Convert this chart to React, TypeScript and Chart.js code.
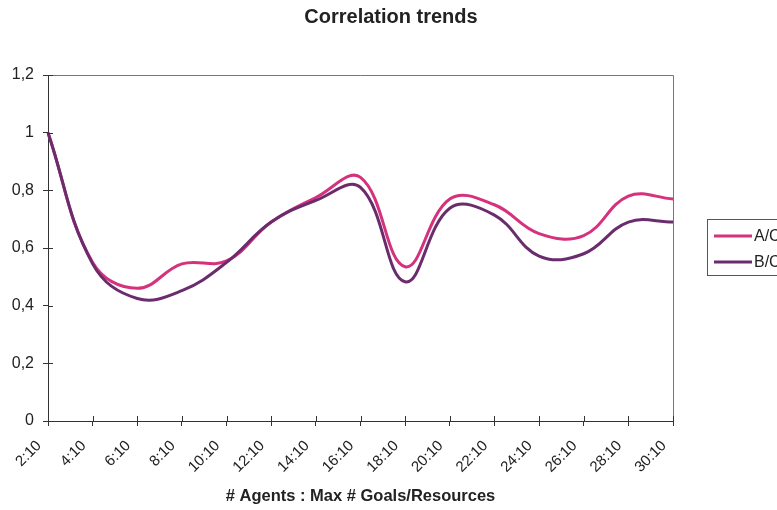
import { useEffect, useRef } from 'react';
import { Chart, registerables } from 'chart.js';

Chart.register(...registerables);

const categories = ['2:10', '4:10', '6:10', '8:10', '10:10', '12:10', '14:10', '16:10', '18:10', '20:10', '22:10', '24:10', '26:10', '28:10', '30:10'];
const seriesAC = [1.0, 0.55, 0.46, 0.545, 0.555, 0.69, 0.775, 0.845, 0.535, 0.77, 0.75, 0.65, 0.643, 0.78, 0.77];
const seriesBC = [1.0, 0.545, 0.425, 0.452, 0.55, 0.69, 0.765, 0.81, 0.483, 0.738, 0.714, 0.572, 0.58, 0.69, 0.69];
const seriesNames = ['A/C', 'B/C'];
const seriesColors = ['#d6317c', '#6b2c6e'];
const yMin = 0;
const yMax = 1.2;
const yStep = 0.2;
const titleText = 'Correlation trends';
const xTitleText = '# Agents : Max # Goals/Resources';

const FONT = "'Liberation Sans', Arial, sans-serif";

export default function App() {
  const ref = useRef<HTMLCanvasElement>(null);

  useEffect(() => {
    const canvas = ref.current;
    if (!canvas) return;

    const decor = {
      id: 'decor',
      afterDraw(chart: any) {
        const ctx = chart.ctx;
        const { left, right, top, bottom } = chart.chartArea;
        ctx.save();
        // title centred on the whole canvas
        ctx.font = `bold 20px ${FONT}`;
        ctx.fillStyle = '#222';
        ctx.textAlign = 'center';
        ctx.textBaseline = 'middle';
        ctx.fillText(titleText, 391, 17);
        // frame top and right
        ctx.strokeStyle = '#777';
        ctx.lineWidth = 1;
        ctx.beginPath();
        ctx.moveTo(left, top + 0.5);
        ctx.lineTo(right + 0.5, top + 0.5);
        ctx.lineTo(right + 0.5, bottom);
        ctx.stroke();
        // inner tick marks
        ctx.strokeStyle = '#333';
        const xs = chart.scales.x;
        const ys = chart.scales.y;
        ctx.beginPath();
        for (let i = 0; i < xs.ticks.length; i++) {
          const px = Math.round(xs.getPixelForTick(i)) + 0.5;
          ctx.moveTo(px, bottom - 5);
          ctx.lineTo(px, bottom);
        }
        for (let i = 0; i < ys.ticks.length; i++) {
          const py = Math.round(ys.getPixelForTick(i)) + 0.5;
          ctx.moveTo(left, py);
          ctx.lineTo(left + 5, py);
        }
        ctx.stroke();
        // legend
        const lx = 707;
        const ly = 219;
        ctx.strokeStyle = '#555';
        ctx.lineWidth = 1;
        ctx.strokeRect(lx + 0.5, ly + 0.5, 120, 56);
        ctx.font = `16px ${FONT}`;
        ctx.textAlign = 'left';
        ctx.textBaseline = 'middle';
        ctx.fillStyle = '#222';
        chart.data.datasets.forEach((ds: any, i: number) => {
          const y = ly + 17 + i * 26;
          ctx.strokeStyle = ds.borderColor;
          ctx.lineWidth = 3;
          ctx.beginPath();
          ctx.moveTo(lx + 7, y);
          ctx.lineTo(lx + 45, y);
          ctx.stroke();
          ctx.fillText(ds.label, lx + 47, y + 1);
        });
        ctx.restore();
      },
    };

    const chart = new Chart(canvas, {
      type: 'line',
      data: {
        labels: categories,
        datasets: [
          {
            label: seriesNames[0],
            data: seriesAC,
            borderColor: seriesColors[0],
            backgroundColor: seriesColors[0],
            borderWidth: 3,
            pointRadius: 0,
            tension: 0.4,
            order: 1,
          },
          {
            label: seriesNames[1],
            data: seriesBC,
            borderColor: seriesColors[1],
            backgroundColor: seriesColors[1],
            borderWidth: 3,
            pointRadius: 0,
            tension: 0.4,
            order: 0,
          },
        ],
      },
      options: {
        animation: false,
        responsive: true,
        maintainAspectRatio: false,
        layout: { padding: { left: 0, right: 104, top: 75, bottom: 0 } },
        plugins: {
          legend: { display: false },
          tooltip: { enabled: false },
          title: { display: false },
        },
        scales: {
          x: {
            type: 'category',
            offset: false,
            border: { display: true, color: '#333', width: 1 },
            grid: { display: true, drawOnChartArea: false, drawTicks: true, tickLength: 5, color: '#333' },
            ticks: {
              autoSkip: false,
              maxRotation: 45,
              minRotation: 45,
              padding: 11,
              labelOffset: -9,
              color: '#222',
              font: { family: FONT, size: 15 },
            },
            title: {
              display: true,
              text: xTitleText,
              color: '#222',
              font: { family: FONT, size: 16.5, weight: 'bold' },
              padding: { top: 4, bottom: 4 },
            },
            afterFit: (scale: any) => {
              scale.height = 89;
            },
          },
          y: {
            min: yMin,
            max: yMax,
            border: { display: true, color: '#333', width: 1 },
            grid: { display: true, drawOnChartArea: false, drawTicks: true, tickLength: 5, color: '#333' },
            ticks: {
              stepSize: yStep,
              padding: 9,
              color: '#222',
              font: { family: FONT, size: 16 },
              callback: (v: any) => String(Math.round(Number(v) * 10) / 10).replace('.', ','),
            },
            afterFit: (scale: any) => {
              scale.width = 48;
            },
          },
        },
      },
      plugins: [decor],
    });

    return () => chart.destroy();
  }, []);

  return (
    <div style={{ position: 'absolute', left: 0, top: 0, width: 777, height: 510, background: '#ffffff' }}>
      <canvas ref={ref} />
    </div>
  );
}
